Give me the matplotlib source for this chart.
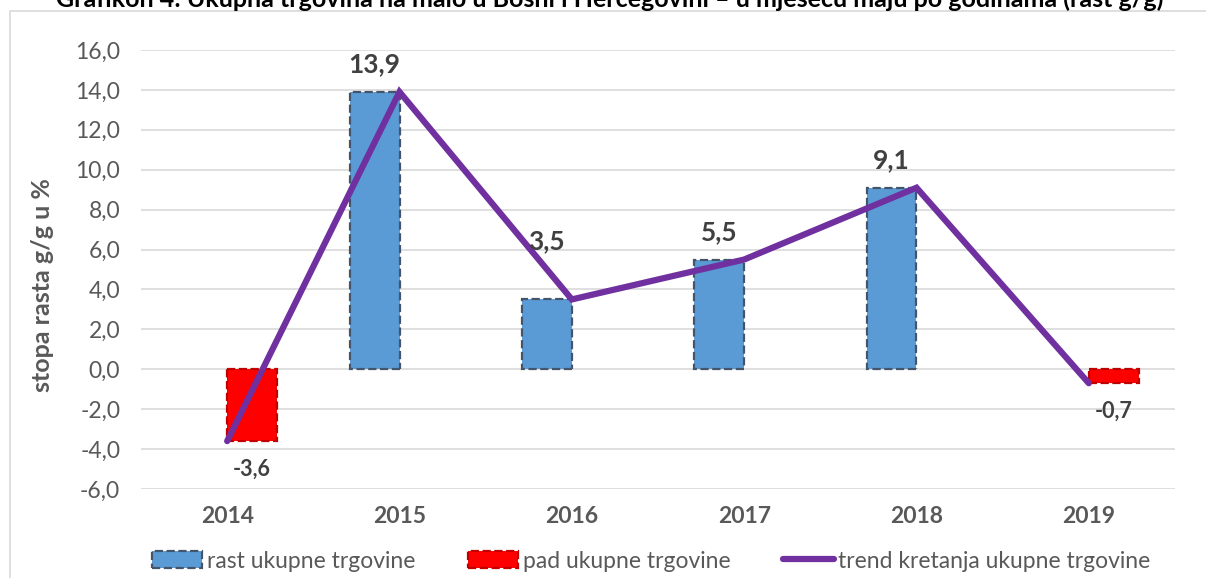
import matplotlib.pyplot as plt
from matplotlib.patches import Patch, Rectangle
from matplotlib.lines import Line2D
import numpy as np

plt.rcParams['font.family'] = ['Lato', 'DejaVu Sans']

years = ["2014", "2015", "2016", "2017", "2018", "2019"]
rast = [0, 13.9, 3.5, 5.5, 9.1, 0]        # rast ukupne trgovine
pad = [-3.6, 0, 0, 0, 0, -0.7]            # pad ukupne trgovine
trend = [-3.6, 13.9, 3.5, 5.5, 9.1, -0.7]  # trend kretanja
yticks = [-6, -4, -2, 0, 2, 4, 6, 8, 10, 12, 14, 16]

title = "Grafikon 4: Ukupna trgovina na malo u Bosni i Hercegovini – u mjesecu maju po godinama (rast g/g)"

def fmt(v):
    return f"{v:.1f}".replace(".", ",")

fig = plt.figure(figsize=(12.06, 5.78), dpi=100)
ax = fig.add_axes([141 / 1206, 1 - 489 / 578, (1175 - 141) / 1206, (489 - 50) / 578])

x = np.arange(len(years))
w = 0.29

# grid
ax.set_ylim(-6, 16)
ax.set_xlim(-0.5, len(years) - 0.5)
ax.set_yticks(yticks)
ax.set_yticklabels([fmt(t) for t in yticks])
for t in yticks:
    ax.axhline(t, color="#d9d9d9", lw=1.2, zorder=0)

# bars
for i in range(len(years)):
    if rast[i] != 0:
        ax.bar(x[i], rast[i], width=-w, align="edge", color="#5b9bd5",
               edgecolor="#44546a", linewidth=1.6, linestyle="--", zorder=2)
        off = 42 if years[i] == "2016" else 20
        ax.annotate(fmt(rast[i]), (x[i] - w / 2, rast[i]), xytext=(0, off),
                    textcoords="offset points", ha="center", va="center",
                    fontsize=19, fontweight="bold", color="#404040", zorder=5)
    if pad[i] != 0:
        ax.bar(x[i], pad[i], width=w, align="edge", color="#ff0000",
               edgecolor="#c00000", linewidth=1.6, linestyle="--", zorder=2)
        ax.annotate(fmt(pad[i]), (x[i] + w / 2, pad[i]), xytext=(0, -20),
                    textcoords="offset points", ha="center", va="center",
                    fontsize=15.5, fontweight="bold", color="#404040", zorder=5)

# trend line
ax.plot(x, trend, color="#7030a0", lw=4.5, solid_capstyle="round",
        solid_joinstyle="miter", zorder=3)

ax.set_xticks(x)
ax.set_xticklabels(years, fontweight="bold", fontsize=16.5, color="#595959")
ax.tick_params(axis="y", labelsize=16.5, labelcolor="#595959", length=0, pad=15)
ax.tick_params(axis="x", length=0, pad=12)
for s in ax.spines.values():
    s.set_visible(False)

ax.set_ylabel("stopa rasta g/g u %", fontsize=18, fontweight="bold",
              color="#595959")
ax.yaxis.set_label_coords(-0.084, 0.465)

# legend
handles = [
    Patch(facecolor="#5b9bd5", edgecolor="#44546a", linestyle="--", linewidth=1.6),
    Patch(facecolor="#ff0000", edgecolor="#c00000", linestyle="--", linewidth=1.6),
    Line2D([0], [0], color="#7030a0", lw=4.5, solid_capstyle="round"),
]
labels = ["rast ukupne trgovine", "pad ukupne trgovine", "trend kretanja ukupne trgovine"]
leg = fig.legend(handles, labels, loc="center", bbox_to_anchor=(651 / 1206, 1 - 561 / 578),
                 ncol=3, frameon=False, fontsize=16.5, handlelength=2.2, handleheight=0.7,
                 handletextpad=0.2, columnspacing=2.3, labelcolor="#595959",
                 borderpad=0, borderaxespad=0)

# chart border (cut off in reference)
fig.add_artist(Rectangle((10 / 1206, -0.1), 1.2, 1 - 11 / 578 + 0.1,
                         transform=fig.transFigure, fill=False,
                         edgecolor="#d9d9d9", lw=1.2))

# title, clipped at top
fig.text(610 / 1206, 1 - 7 / 578, title, ha="center", va="baseline",
         fontsize=18, fontweight="bold", color="#000000")

fig.savefig("out.png", dpi=100)
